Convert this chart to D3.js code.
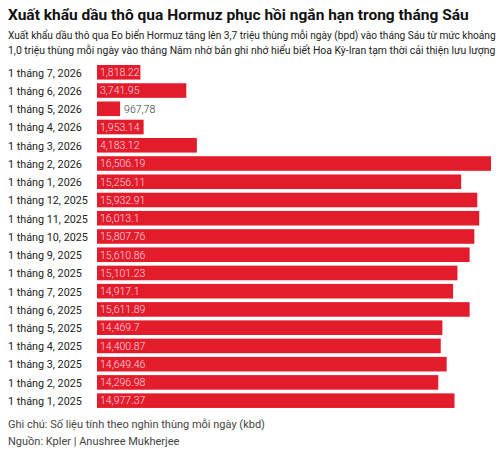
<!DOCTYPE html>
<html>
<head>
<meta charset="utf-8">
<script src="https://cdn.jsdelivr.net/npm/d3@7"></script>
<style>
  html, body { margin: 0; padding: 0; background: #fff; }
  svg { display: block; }
</style>
</head>
<body>
<div id="chart"></div>
<script>
const title = "Xuất khẩu dầu thô qua Hormuz phục hồi ngắn hạn trong tháng Sáu";
const subtitleLines = [
  "Xuất khẩu dầu thô qua Eo biển Hormuz tăng lên 3,7 triệu thùng mỗi ngày (bpd) vào tháng Sáu từ mức khoảng",
  "1,0 triệu thùng mỗi ngày vào tháng Năm nhờ bản ghi nhớ hiểu biết Hoa Kỳ-Iran tạm thời cải thiện lưu lượng"
];
const categories = [
  "1 tháng 7, 2026", "1 tháng 6, 2026", "1 tháng 5, 2026", "1 tháng 4, 2026",
  "1 tháng 3, 2026", "1 tháng 2, 2026", "1 tháng 1, 2026", "1 tháng 12, 2025",
  "1 tháng 11, 2025", "1 tháng 10, 2025", "1 tháng 9, 2025", "1 tháng 8, 2025",
  "1 tháng 7, 2025", "1 tháng 6, 2025", "1 tháng 5, 2025", "1 tháng 4, 2025",
  "1 tháng 3, 2025", "1 tháng 2, 2025", "1 tháng 1, 2025"
];
const values = [
  1818.22, 3741.95, 967.78, 1953.14, 4183.12, 16506.19, 15256.11, 15932.91,
  16013.1, 15807.76, 15610.86, 15101.23, 14917.1, 15611.89, 14469.7, 14400.87,
  14649.46, 14296.98, 14977.37
];
const valueLabels = [
  "1,818.22", "3,741.95", "967,78", "1,953.14", "4,183.12", "16,506.19", "15,256.11", "15,932.91",
  "16,013.1", "15,807.76", "15,610.86", "15,101.23", "14,917.1", "15,611.89", "14,469.7", "14,400.87",
  "14,649.46", "14,296.98", "14,977.37"
];
const notes = [
  "Ghi chú: Số liệu tính theo nghìn thùng mỗi ngày (kbd)",
  "Nguồn: Kpler | Anushree Mukherjee"
];

const W = 500, H = 457;
const svg = d3.select("#chart").append("svg").attr("width", W).attr("height", H);
const font = "Roboto, 'Open Sans', sans-serif";

// shrink a text's font size until it fits a target width
function fit(sel, target) {
  sel.each(function () {
    const len = this.getComputedTextLength();
    if (len > target) {
      const fs = parseFloat(this.getAttribute("font-size"));
      this.setAttribute("font-size", (fs * target / len).toFixed(2));
    }
  });
}

svg.append("text").attr("x", 8).attr("y", 20)
  .attr("font-family", font).attr("font-weight", 700).attr("font-size", 15.5)
  .attr("fill", "#111").text(title);

subtitleLines.forEach((t, i) => {
  svg.append("text").attr("x", 8).attr("y", 39 + i * 14.5)
    .attr("font-family", font).attr("font-size", 12.5)
    .attr("fill", "#222").text(t)
    .call(fit, 488);
});

const x = d3.scaleLinear().domain([0, d3.max(values)]).range([97, 491]);
const y = d3.scaleBand().domain(categories).range([65, 65 + 18.05 * categories.length])
  .paddingInner(0.2).paddingOuter(0);

const rows = svg.append("g").selectAll("g").data(categories).join("g");

const catText = rows.append("text")
  .attr("x", 8).attr("y", d => y(d) + y.bandwidth() / 2 + 4.3)
  .attr("font-family", font).attr("font-size", 12.5)
  .attr("fill", "#222").text(d => d);
// common size so the longest label fits before the bars
const maxLen = d3.max(catText.nodes(), n => n.getComputedTextLength());
const catSize = Math.min(12.5, 12.5 * 80 / maxLen);
catText.attr("font-size", catSize.toFixed(2));

rows.append("rect")
  .attr("x", x(0)).attr("y", d => y(d))
  .attr("width", (d, i) => x(values[i]) - x(0))
  .attr("height", y.bandwidth())
  .attr("fill", "#e31c2c");

rows.append("text")
  .attr("x", (d, i) => (x(values[i]) - x(0) < 40 ? x(values[i]) + 4 : x(0) + 3))
  .attr("y", d => y(d) + y.bandwidth() / 2 + 3.8)
  .attr("font-family", font).attr("font-size", 10.5).attr("font-weight", 300)
  .attr("fill", (d, i) => (x(values[i]) - x(0) < 40 ? "#333" : "#fbdde0"))
  .text((d, i) => valueLabels[i]);

notes.forEach((t, i) => {
  svg.append("text").attr("x", 8).attr("y", 428 + i * 17)
    .attr("font-family", font).attr("font-size", 11)
    .attr("fill", "#444").text(t);
});
</script>
</body>
</html>
